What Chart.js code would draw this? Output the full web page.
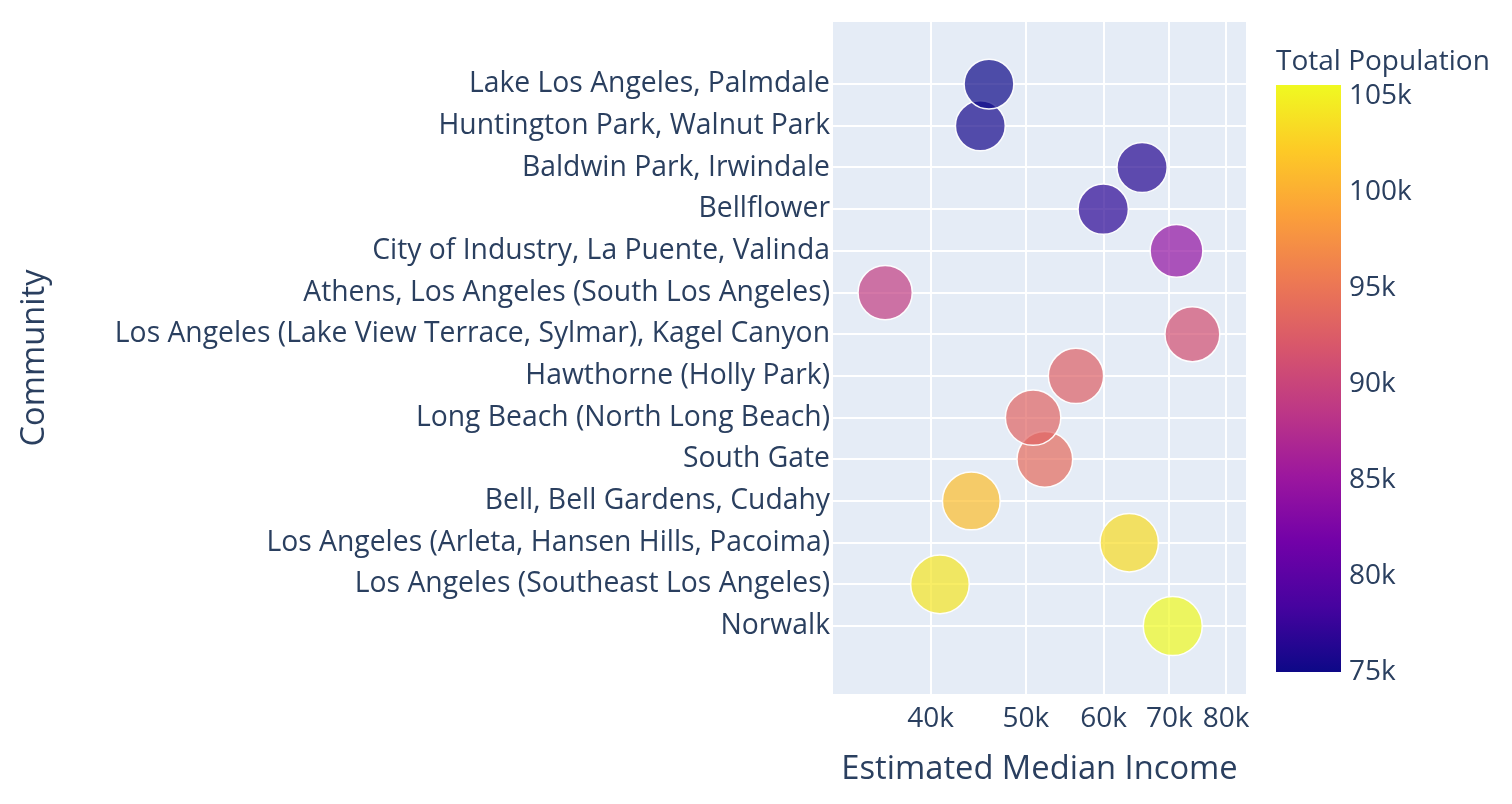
<!DOCTYPE html>
<html><head><meta charset="utf-8">
<script src="https://cdn.jsdelivr.net/npm/chart.js@4.4.0/dist/chart.umd.min.js"></script>
<style>html,body{margin:0;padding:0;background:#fff;}</style>
</head><body>
<canvas id="c" width="1512" height="804" style="display:block;width:1512px;height:804px"></canvas>
<script>
// Bottom-to-top category order (also drawing order)
const communities = [
  "Norwalk",
  "Los Angeles (Southeast Los Angeles)",
  "Los Angeles (Arleta, Hansen Hills, Pacoima)",
  "Bell, Bell Gardens, Cudahy",
  "South Gate",
  "Long Beach (North Long Beach)",
  "Hawthorne (Holly Park)",
  "Los Angeles (Lake View Terrace, Sylmar), Kagel Canyon",
  "Athens, Los Angeles (South Los Angeles)",
  "City of Industry, La Puente, Valinda",
  "Bellflower",
  "Baldwin Park, Irwindale",
  "Huntington Park, Walnut Park",
  "Lake Los Angeles, Palmdale"
];
const medianIncome = [70580, 40890, 63730, 44010, 52290, 50870, 56250, 73900, 35960, 71200, 59960, 65680, 44950, 45870];
const totalPopulation = [105600, 104200, 103500, 101200, 94000, 93300, 92800, 91200, 89200, 84300, 76800, 76300, 75400, 75000];
const xTickValues = [40000, 50000, 60000, 70000, 80000];
const colorbarTicks = [75000, 80000, 85000, 90000, 95000, 100000, 105000];

const plasma = ['#0d0887','#46039f','#7201a8','#9c179e','#bd3786','#d8576b','#ed7953','#fb9f3a','#fdca26','#f0f921'];
function hexToRgb(h){return [parseInt(h.slice(1,3),16),parseInt(h.slice(3,5),16),parseInt(h.slice(5,7),16)];}
function plasmaColor(t, a){
  t = Math.max(0, Math.min(1, t));
  const s = t*(plasma.length-1), i = Math.min(Math.floor(s), plasma.length-2), f = s-i;
  const c0 = hexToRgb(plasma[i]), c1 = hexToRgb(plasma[i+1]);
  const c = c0.map((v,k)=>Math.round(v+(c1[k]-v)*f));
  return a===undefined ? `rgb(${c[0]},${c[1]},${c[2]})` : `rgba(${c[0]},${c[1]},${c[2]},${a})`;
}
const cmin = Math.min(...totalPopulation), cmax = Math.max(...totalPopulation);
const TEXT = '#2a3f5f';
const FONT = '"Open Sans", verdana, arial, sans-serif';

const points = communities.map((c,i)=>({x: medianIncome[i], y: i, r: 29.5*Math.sqrt(totalPopulation[i]/cmax)}));
const colors = totalPopulation.map(p=>plasmaColor((p-cmin)/(cmax-cmin), 0.7));

const bgPlugin = {
  id:'bg',
  beforeDraw(chart){
    const {ctx, chartArea:a} = chart;
    ctx.save(); ctx.fillStyle = '#E5ECF6';
    ctx.fillRect(a.left, a.top, a.right-a.left, a.bottom-a.top);
    ctx.restore();
  }
};
const colorbarPlugin = {
  id:'colorbar',
  afterDraw(chart){
    const ctx = chart.ctx;
    const x0 = 1276, w = 65, top = 85, bottom = 672;
    const g = ctx.createLinearGradient(0, bottom, 0, top);
    plasma.forEach((c,i)=>g.addColorStop(i/(plasma.length-1), c));
    ctx.save();
    ctx.fillStyle = g;
    ctx.fillRect(x0, top, w, bottom-top);
    ctx.fillStyle = TEXT;
    ctx.font = `28px ${FONT}`;
    ctx.textAlign = 'left'; ctx.textBaseline = 'middle';
    colorbarTicks.forEach(v=>{
      const y = bottom - (v-cmin)/(cmax-cmin)*(bottom-top);
      ctx.fillText((v/1000)+'k', x0+w+8, y);
    });
    ctx.textBaseline = 'alphabetic';
    ctx.fillText('Total Population', 1276, 70);
    ctx.restore();
  }
};

new Chart(document.getElementById('c'), {
  type:'bubble',
  data:{datasets:[{
    data: points,
    backgroundColor: colors,
    borderColor: 'rgba(255,255,255,0.95)',
    borderWidth: 1.5,
    hoverBorderWidth: 1.5
  }]},
  options:{
    responsive:false, animation:false,
    layout:{autoPadding:false, padding:{top:22, right:266, left:0, bottom:0}},
    plugins:{legend:{display:false}, tooltip:{enabled:false}},
    scales:{
      x:{
        type:'logarithmic', min:31820, max:83800,
        afterBuildTicks(s){ s.ticks = xTickValues.map(v=>({value:v})); },
        afterFit(s){ s.height = 110; s.paddingLeft = 0; s.paddingRight = 0; },
        grid:{color:'#ffffff', lineWidth:2, drawTicks:false},
        border:{display:false},
        ticks:{color:TEXT, font:{family:FONT, size:28}, padding:8, maxRotation:0, autoSkip:false,
          callback:(v)=> (v/1000)+'k'},
        title:{display:true, text:'Estimated Median Income', color:TEXT, font:{family:FONT, size:32.7}, padding:{top:0,bottom:14.4}}
      },
      y:{
        type:'linear', min:-1.63, max:14.49,
        afterBuildTicks(s){ s.ticks = communities.map((c,i)=>({value:i})); },
        afterFit(s){ s.width = 833; s.paddingTop = 0; s.paddingBottom = 0; },
        grid:{color:'#ffffff', lineWidth:2, drawTicks:false},
        border:{display:false},
        ticks:{color:TEXT, font:{family:FONT, size:28.3}, padding:3, autoSkip:false,
          callback:(v)=> communities[v]},
        title:{display:true, text:'Community', color:TEXT, font:{family:FONT, size:32.7}, padding:{top:15.4,bottom:0}}
      }
    }
  },
  plugins:[bgPlugin, colorbarPlugin]
});
</script>
</body></html>
